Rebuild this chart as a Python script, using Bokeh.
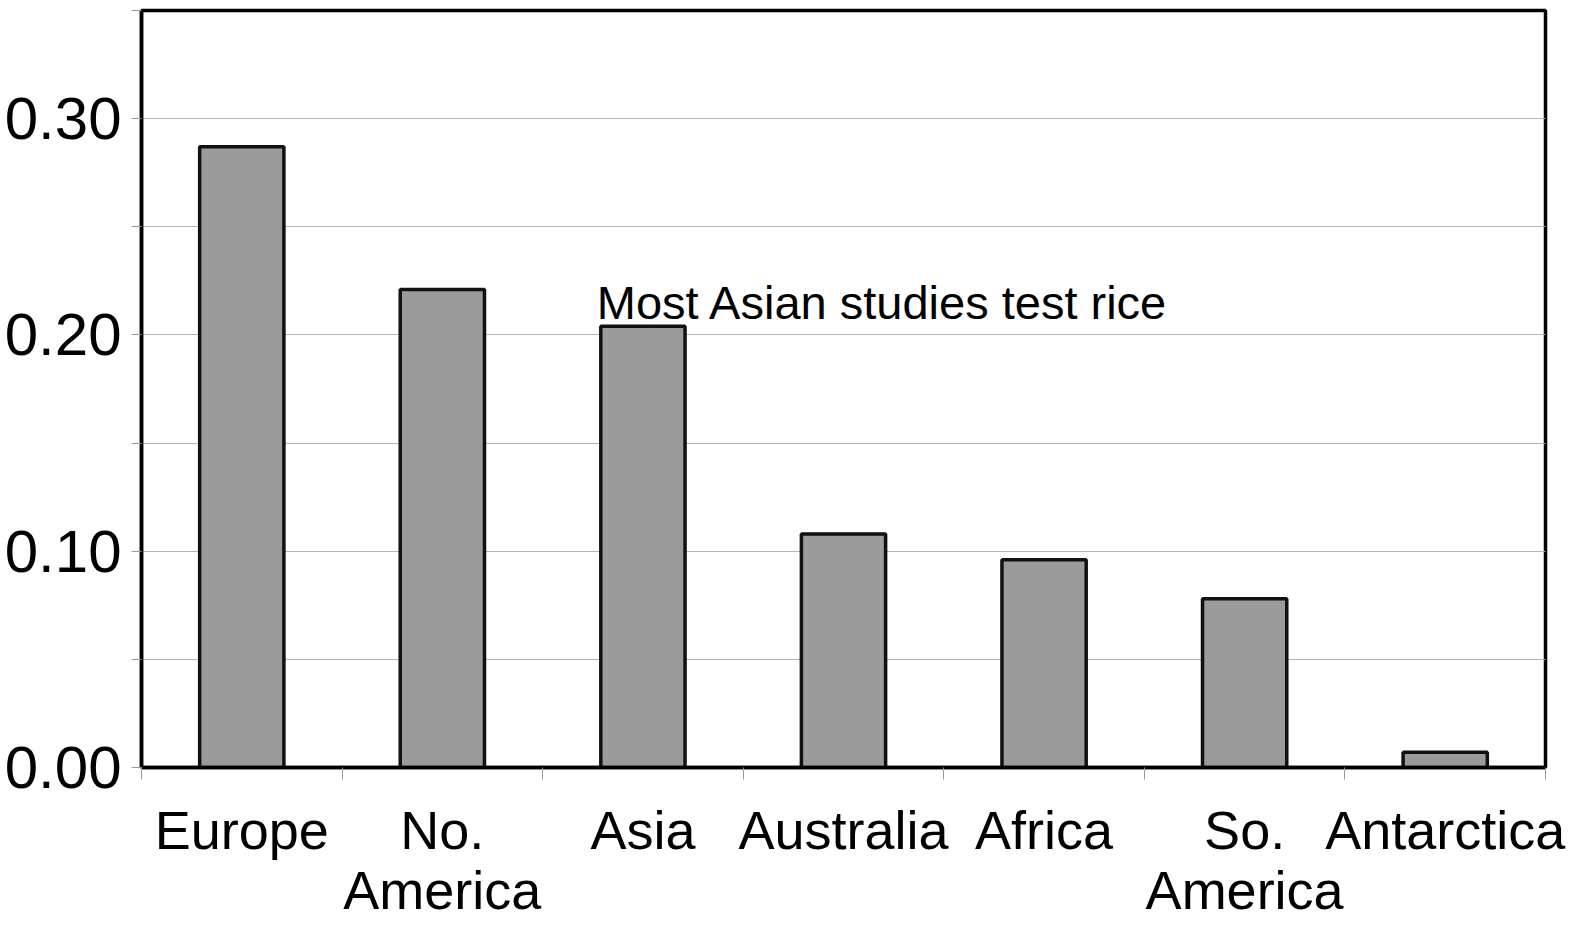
from bokeh.plotting import figure
from bokeh.models import FixedTicker, NumeralTickFormatter, Label, ColumnDataSource, Range1d
from bokeh.embed import file_html
from bokeh.resources import INLINE

categories = ["Europe", "No.\nAmerica", "Asia", "Australia", "Africa", "So.\nAmerica", "Antarctica"]
values = [0.287, 0.221, 0.204, 0.108, 0.096, 0.078, 0.007]
y_ticks = [0.0, 0.10, 0.20, 0.30]
y_minor_ticks = [0.05, 0.15, 0.25, 0.35]
grid_ticks = [0.05, 0.10, 0.15, 0.20, 0.25, 0.30]
annotation = "Most Asian studies test rice"

xs = [i + 0.5 for i in range(len(categories))]
src = ColumnDataSource(dict(x=xs, top=values, name=categories))

FONT = "'Liberation Sans', Arial, sans-serif"

p = figure(width=1574, height=925, output_backend="svg", toolbar_location=None,
           x_range=Range1d(0, len(categories)), y_range=Range1d(0, 0.35),
           min_border_left=141, min_border_right=29, min_border_top=10, min_border_bottom=158)
p.background_fill_color = "white"
p.border_fill_color = "white"
p.outline_line_color = "black"
p.outline_line_width = 3.5

p.vbar(x="x", top="top", width=0.42, bottom=0, source=src,
       fill_color="#9c9b9c", line_color="#111111", line_width=3.5)

p.xgrid.visible = False
p.ygrid.ticker = FixedTicker(ticks=grid_ticks)
p.ygrid.grid_line_color = "#b4b4b4"
p.ygrid.grid_line_width = 1.2

# y axis
ya = p.yaxis[0]
ya.ticker = FixedTicker(ticks=y_ticks, minor_ticks=y_minor_ticks)
ya.formatter = NumeralTickFormatter(format="0.00")
ya.axis_line_color = "black"
ya.axis_line_width = 3.5
ya.major_tick_line_color = "#9a9a9a"
ya.minor_tick_line_color = "#9a9a9a"
ya.major_tick_out = 10
ya.major_tick_in = 0
ya.minor_tick_out = 10
ya.minor_tick_in = 0
ya.major_label_standoff = 10
ya.major_label_text_font = FONT
ya.major_label_text_font_size = "60px"
ya.major_label_text_color = "black"

# x axis: tick marks at category boundaries, category names centred
xa = p.xaxis[0]
xa.ticker = FixedTicker(ticks=xs, minor_ticks=list(range(len(categories) + 1)))
xa.major_label_overrides = {x: c for x, c in zip(xs, categories)}
xa.axis_line_color = "black"
xa.axis_line_width = 3.5
xa.major_tick_line_color = None
xa.major_tick_out = 0
xa.major_tick_in = 0
xa.minor_tick_line_color = "#9a9a9a"
xa.minor_tick_out = 12
xa.minor_tick_in = 0
xa.major_label_standoff = 20
xa.major_label_text_font = FONT
xa.major_label_text_font_size = "54px"
xa.major_label_text_color = "black"
xa.major_label_text_line_height = 1.0

p.add_layout(Label(x=2.27, y=0.215, text=annotation, text_font=FONT,
                   text_font_size="47px", text_color="black", text_baseline="alphabetic"))

open("out.html", "w").write(file_html(p, INLINE))
